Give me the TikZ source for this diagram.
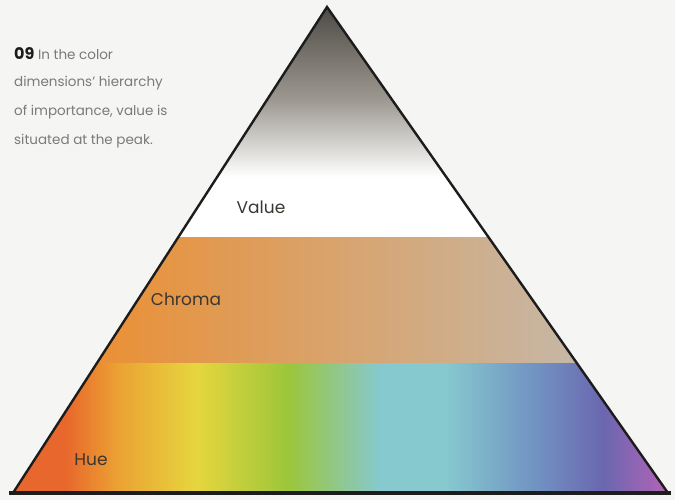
\documentclass[tikz,border=0pt]{standalone}
\usepackage{fontspec}
\setmainfont{Poppins}
\usetikzlibrary{calc}
\definecolor{paper}{HTML}{F5F5F3}
\definecolor{ink}{HTML}{1C1C1C}
\definecolor{labelink}{HTML}{3A3631}
\definecolor{captiongray}{HTML}{7A7A78}
\definecolor{peak}{HTML}{4E4B45}
\definecolor{peakmid}{HTML}{9C9890}
\definecolor{chromaL}{HTML}{EA9035}
\definecolor{chromaM}{HTML}{E2A05A}
\definecolor{chromaR}{HTML}{C6B7A6}
\definecolor{hueA}{HTML}{E8672C}
\definecolor{hueB}{HTML}{EBA233}
\definecolor{hueC}{HTML}{E6D63E}
\definecolor{hueD}{HTML}{9CC63A}
\definecolor{hueE}{HTML}{86C9CF}
\definecolor{hueF}{HTML}{7192C2}
\definecolor{hueG}{HTML}{6A67B0}
\definecolor{hueH}{HTML}{B463B6}
\pgfdeclareverticalshading{valueshade}{100bp}{color(0bp)=(white); color(25bp)=(white);
  color(38bp)=(white); color(55bp)=(peakmid); color(75bp)=(peak); color(100bp)=(peak)}
\pgfdeclarehorizontalshading{hueshade}{100bp}{color(0bp)=(hueA); color(25bp)=(hueA);
  color(29bp)=(hueA); color(33bp)=(hueB); color(39bp)=(hueC); color(46bp)=(hueD);
  color(53bp)=(hueE); color(58bp)=(hueE); color(65bp)=(hueF); color(70bp)=(hueG);
  color(75bp)=(hueH); color(100bp)=(hueH)}

\begin{document}
\begin{tikzpicture}[x=1pt,y=-1pt,
  band/.style={font=\fontsize{17}{19}\selectfont,text=labelink},
  caption/.style={anchor=west,inner sep=0pt,font=\fontsize{13.5}{15}\selectfont,text=captiongray}]
\fill[paper] (0,0) rectangle (675,500);
\coordinate (apex) at (327,7);
\coordinate (bl) at (13,493);
\coordinate (br) at (668,493);
\coordinate (cl) at (177.5,237);
\coordinate (cr) at (488,237);
\coordinate (hl) at (97,363);
\coordinate (hr) at (576.5,363);
% the three layers
\shade[shading=valueshade] (apex) -- (cr) -- (cl) -- cycle;
\shade[left color=chromaL,middle color=chromaM,right color=chromaR] (cl) -- (cr) -- (hr) -- (hl) -- cycle;
\shade[shading=hueshade] (hl) -- (hr) -- (br) -- (bl) -- cycle;
\draw[ink,line width=2.4pt,line join=miter] (bl) -- (apex) -- (br);
\draw[ink,line width=4pt] ($(bl)+(-4,0)$) -- ($(br)+(3,0)$);
\node[band] (value) at (261,207) {Value};
\node[band] (chroma) at (186,299) {Chroma};
\node[band] (hue) at (91,460) {Hue};
\node[caption] (c1) at (14,54) {\textcolor{ink}{\fontsize{16}{16}\selectfont\bfseries 09} In the color};
\node[caption] (c2) at (14,83) {dimensions' hierarchy};
\node[caption] (c3) at (14,112) {of importance, value is};
\node[caption] (c4) at (14,141) {situated at the peak.};
\end{tikzpicture}
\end{document}
